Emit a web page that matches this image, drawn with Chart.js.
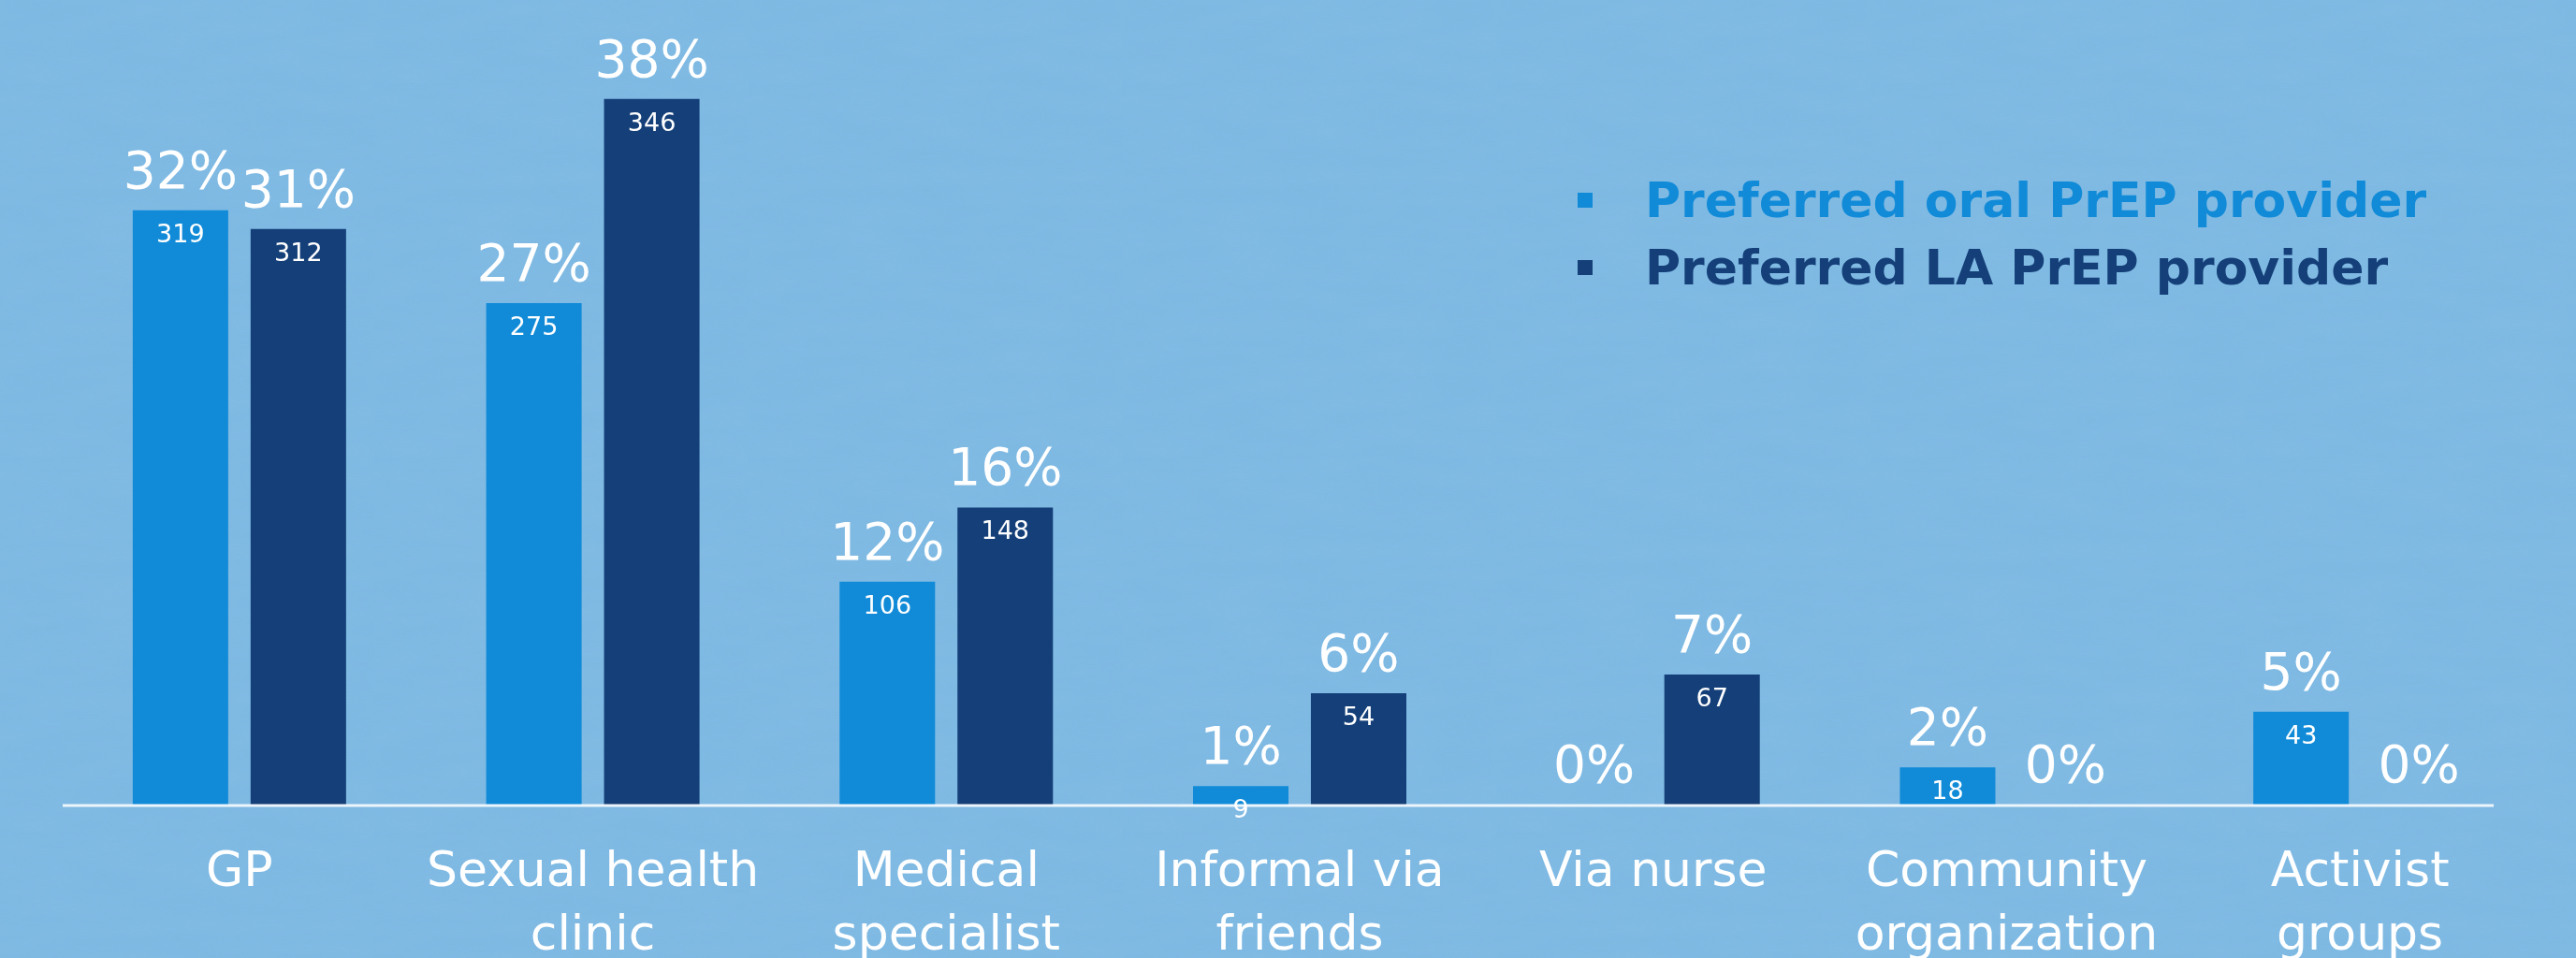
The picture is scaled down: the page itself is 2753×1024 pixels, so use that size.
<!DOCTYPE html>
<html lang="en">
<head>
    <meta charset="UTF-8">
    <title>Preferred PrEP provider</title>
    <script src="https://cdn.jsdelivr.net/npm/chart.js"></script>
    <style>
        html, body {
            margin: 0;
            padding: 0;
            width: 2753px;
            height: 1024px;
            overflow: hidden;
            font-family: 'DejaVu Sans', Verdana, sans-serif;
        }
        body {
            background-color: #7cb8e2;
            background-image: url("data:image/svg+xml,%3Csvg xmlns='http://www.w3.org/2000/svg' width='400' height='400'%3E%3Cfilter id='n'%3E%3CfeTurbulence type='fractalNoise' baseFrequency='0.012 0.05' numOctaves='3' seed='4'/%3E%3CfeColorMatrix values='0 0 0 0 0.35  0 0 0 0 0.6  0 0 0 0 0.85  0 0 0 0.9 0'/%3E%3C/filter%3E%3Crect width='400' height='400' filter='url(%23n)' opacity='0.18'/%3E%3C/svg%3E");
        }
        .wrap {
            position: relative;
            width: 2753px;
            height: 1024px;
        }
        .legend {
            position: absolute;
            left: 1686px;
            top: 178px;
        }
        .legend-row {
            display: flex;
            align-items: center;
            height: 72px;
            font-weight: bold;
            font-size: 52px;
            line-height: 72px;
            white-space: nowrap;
        }
        .legend-row .box {
            width: 16px;
            height: 16px;
            margin-right: 56px;
        }
    </style>
</head>
<body>
    <div class="wrap">
        <canvas id="providerChart" width="2753" height="1024"></canvas>
        <div class="legend" id="legend"></div>
    </div>

    <script>
        // Categories (multi-line tick labels)
        const categories = [
            ['GP'],
            ['Sexual health', 'clinic'],
            ['Medical', 'specialist'],
            ['Informal via', 'friends'],
            ['Via nurse'],
            ['Community', 'organization'],
            ['Activist', 'groups']
        ];

        const seriesNames = ['Preferred oral PrEP provider', 'Preferred LA PrEP provider'];
        const seriesColors = ['#118bd8', '#143f78'];

        // Percent values (bar heights)
        const oralPct = [32, 27, 12, 1, 0, 2, 5];
        const laPct = [31, 38, 16, 6, 7, 0, 0];

        // Respondent counts (shown inside the bars)
        const oralCount = [319, 275, 106, 9, 0, 18, 43];
        const laCount = [312, 346, 148, 54, 67, 0, 0];

        const counts = [oralCount, laCount];

        // Legend
        const legendEl = document.getElementById('legend');
        seriesNames.forEach(function(name, i) {
            const row = document.createElement('div');
            row.className = 'legend-row';
            row.style.color = seriesColors[i];
            const box = document.createElement('span');
            box.className = 'box';
            box.style.background = seriesColors[i];
            const txt = document.createElement('span');
            txt.textContent = name;
            row.appendChild(box);
            row.appendChild(txt);
            legendEl.appendChild(row);
        });

        // Percentage above bars, count inside bars, and the base line
        const labelPlugin = {
            id: 'barLabels',
            afterDatasetsDraw(chart) {
                const ctx = chart.ctx;
                const area = chart.chartArea;

                ctx.save();
                ctx.strokeStyle = 'rgba(255,255,255,0.85)';
                ctx.lineWidth = 3;
                ctx.beginPath();
                ctx.moveTo(area.left, area.bottom + 1);
                ctx.lineTo(area.right - 46, area.bottom + 1);
                ctx.stroke();

                ctx.fillStyle = '#ffffff';
                ctx.textAlign = 'center';
                chart.data.datasets.forEach(function(ds, di) {
                    const meta = chart.getDatasetMeta(di);
                    meta.data.forEach(function(bar, i) {
                        ctx.font = '55px "DejaVu Sans"';
                        ctx.textBaseline = 'alphabetic';
                        ctx.fillText(ds.data[i] + '%', bar.x, bar.y - 24);
                        const n = counts[di][i];
                        if (n > 0) {
                            ctx.font = '27px "DejaVu Sans"';
                            ctx.textBaseline = 'middle';
                            ctx.fillText(String(n), bar.x, bar.y + 27);
                        }
                    });
                });
                ctx.restore();
            }
        };

        new Chart(document.getElementById('providerChart'), {
            type: 'bar',
            data: {
                labels: categories,
                datasets: [
                    {
                        label: seriesNames[0],
                        data: oralPct,
                        backgroundColor: seriesColors[0],
                        borderWidth: 0
                    },
                    {
                        label: seriesNames[1],
                        data: laPct,
                        backgroundColor: seriesColors[1],
                        borderWidth: 0
                    }
                ]
            },
            options: {
                responsive: false,
                animation: false,
                categoryPercentage: 0.667,
                barPercentage: 0.81,
                layout: {
                    padding: { top: 66, left: 67, right: 42, bottom: 0 }
                },
                plugins: {
                    legend: { display: false },
                    tooltip: { enabled: false }
                },
                scales: {
                    x: {
                        grid: { display: false, drawTicks: false },
                        border: { display: false },
                        ticks: {
                            color: '#ffffff',
                            padding: 40,
                            maxRotation: 0,
                            autoSkip: false,
                            font: { family: 'DejaVu Sans', size: 52, lineHeight: 1.3 }
                        },
                        afterFit: function(scale) {
                            scale.height = 164;
                        }
                    },
                    y: {
                        display: false,
                        min: 0,
                        max: 40
                    }
                }
            },
            plugins: [labelPlugin]
        });
    </script>
</body>
</html>
